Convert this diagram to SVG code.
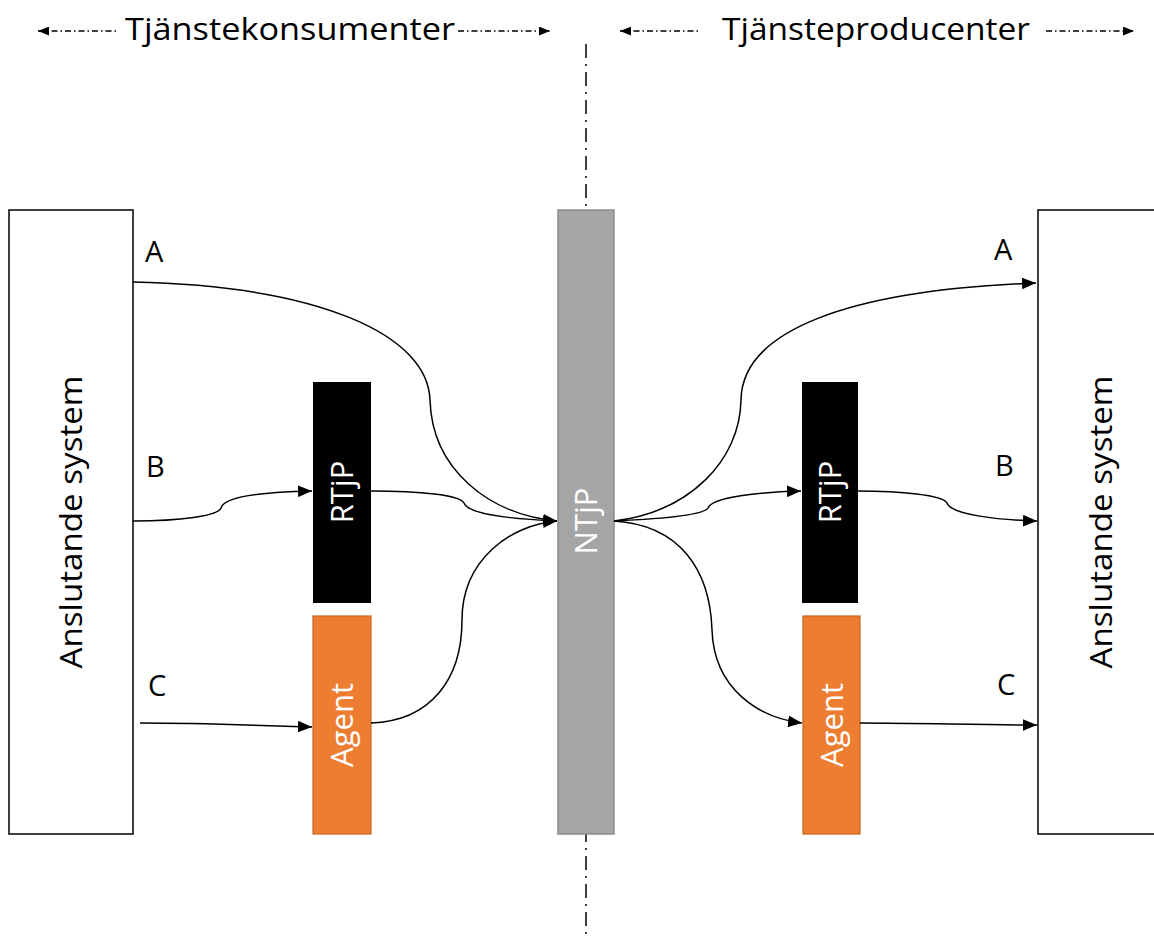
<svg xmlns="http://www.w3.org/2000/svg" width="1154" height="938" viewBox="0 0 1154 938">
<style>
.lbl{font-family:"Open Sans","Liberation Sans",sans-serif;fill:#000}
.wt{font-family:"Open Sans","Liberation Sans",sans-serif;fill:#fff}
.conn{fill:none;stroke:#000;stroke-width:1.5}
.dd{fill:none;stroke:#000;stroke-width:1.3;stroke-dasharray:6 3 1.5 3}
</style>
<defs>
<marker id="ah" viewBox="0 0 12 10" refX="12" refY="5" markerWidth="14" markerHeight="12" markerUnits="userSpaceOnUse" orient="auto">
<path d="M0,0 L12,5 L0,10 Z" fill="#000"/>
</marker>
<marker id="sh" viewBox="0 0 10 8" refX="10" refY="4" markerWidth="11" markerHeight="9" markerUnits="userSpaceOnUse" orient="auto-start-reverse">
<path d="M0,0 L10,4 L0,8 Z" fill="#000"/>
</marker>
</defs>
<rect width="1154" height="938" fill="#fff"/>
<g id="divider">
<line x1="586" y1="44" x2="586" y2="938" stroke="#000" stroke-width="1.5" stroke-dasharray="14 6 2 6"/>
</g>
<g id="header-left">
<line class="dd" x1="38" y1="31" x2="118" y2="31" marker-start="url(#sh)"/>
<text class="lbl" x="290" y="40" font-size="31" text-anchor="middle" textLength="330" lengthAdjust="spacingAndGlyphs">Tjänstekonsumenter</text>
<line class="dd" x1="458" y1="31" x2="550" y2="31" marker-end="url(#sh)"/>
</g>
<g id="header-right">
<line class="dd" x1="620" y1="31" x2="698" y2="31" marker-start="url(#sh)"/>
<text class="lbl" x="876" y="40" font-size="31" text-anchor="middle" textLength="308" lengthAdjust="spacingAndGlyphs">Tjänsteproducenter</text>
<line class="dd" x1="1046" y1="31" x2="1134" y2="31" marker-end="url(#sh)"/>
</g>
<g id="left-system">
<rect x="9" y="210" width="124" height="624" fill="#fff" stroke="#000" stroke-width="1.5"/>
<text class="lbl" font-size="31" text-anchor="middle" transform="translate(82,522) rotate(-90)" textLength="293" lengthAdjust="spacingAndGlyphs">Anslutande system</text>
</g>
<g id="right-system">
<rect x="1038" y="210" width="130" height="624" fill="#fff" stroke="#000" stroke-width="1.5"/>
<text class="lbl" font-size="31" text-anchor="middle" transform="translate(1112,522) rotate(-90)" textLength="293" lengthAdjust="spacingAndGlyphs">Anslutande system</text>
</g>
<g id="ntjp">
<rect x="558" y="210" width="56" height="624" fill="#a5a5a5" stroke="#8c8c8c" stroke-width="1.5"/>
<text class="wt" font-size="31" text-anchor="middle" transform="translate(597,521) rotate(-90)" fill="#f2f2f2">NTjP</text>
</g>
<g id="rtjp-left">
<rect x="313" y="382" width="58" height="221" fill="#000"/>
<text class="wt" font-size="31" text-anchor="middle" transform="translate(353,492) rotate(-90)">RTjP</text>
</g>
<g id="agent-left">
<rect x="313" y="616" width="58" height="218" fill="#ed7d31" stroke="#c9651f" stroke-width="1.2"/>
<text class="wt" font-size="31" text-anchor="middle" transform="translate(353,725) rotate(-90)">Agent</text>
</g>
<g id="rtjp-right">
<rect x="802" y="382" width="56" height="221" fill="#000"/>
<text class="wt" font-size="31" text-anchor="middle" transform="translate(841,492) rotate(-90)">RTjP</text>
</g>
<g id="agent-right">
<rect x="803" y="616" width="57" height="218" fill="#ed7d31" stroke="#c9651f" stroke-width="1.2"/>
<text class="wt" font-size="31" text-anchor="middle" transform="translate(843,725) rotate(-90)">Agent</text>
</g>
<g id="labels">
<text class="lbl" x="145" y="262" font-size="29">A</text>
<text class="lbl" x="146" y="477" font-size="29">B</text>
<text class="lbl" x="148" y="696" font-size="29">C</text>
<text class="lbl" x="994" y="260" font-size="29">A</text>
<text class="lbl" x="995" y="476" font-size="29">B</text>
<text class="lbl" x="997" y="695" font-size="29">C</text>
</g>
<g id="connectors">
<path class="conn" d="M133,282 C320,286 428,335 430,400 C432,470 490,515 557,521" marker-end="url(#ah)"/>
<path class="conn" d="M133,521 C180,521 218,516 221,508 C224,497 262,492 312,491" marker-end="url(#ah)"/>
<path class="conn" d="M371,491 C420,491 460,495 464,503 C468,514 510,519 557,521"/>
<path class="conn" d="M140,723 C200,723 250,725 312,727" marker-end="url(#ah)"/>
<path class="conn" d="M371,723 C430,721 462,680 462,620 C462,560 510,525 557,521" marker-end="url(#ah)"/>
<path class="conn" d="M614,521 C690,512 740,460 741,400 C742,330 850,290 1036,283" marker-end="url(#ah)"/>
<path class="conn" d="M614,521 C660,519 704,515 708,508 C712,497 760,492 801,491" marker-end="url(#ah)"/>
<path class="conn" d="M858,491 C900,491 943,495 947,503 C951,515 1000,520 1037,521" marker-end="url(#ah)"/>
<path class="conn" d="M614,521 C680,525 710,570 712,630 C714,690 760,718 802,723" marker-end="url(#ah)"/>
<path class="conn" d="M860,723 C920,723 980,725 1037,725" marker-end="url(#ah)"/>
</g>
</svg>
